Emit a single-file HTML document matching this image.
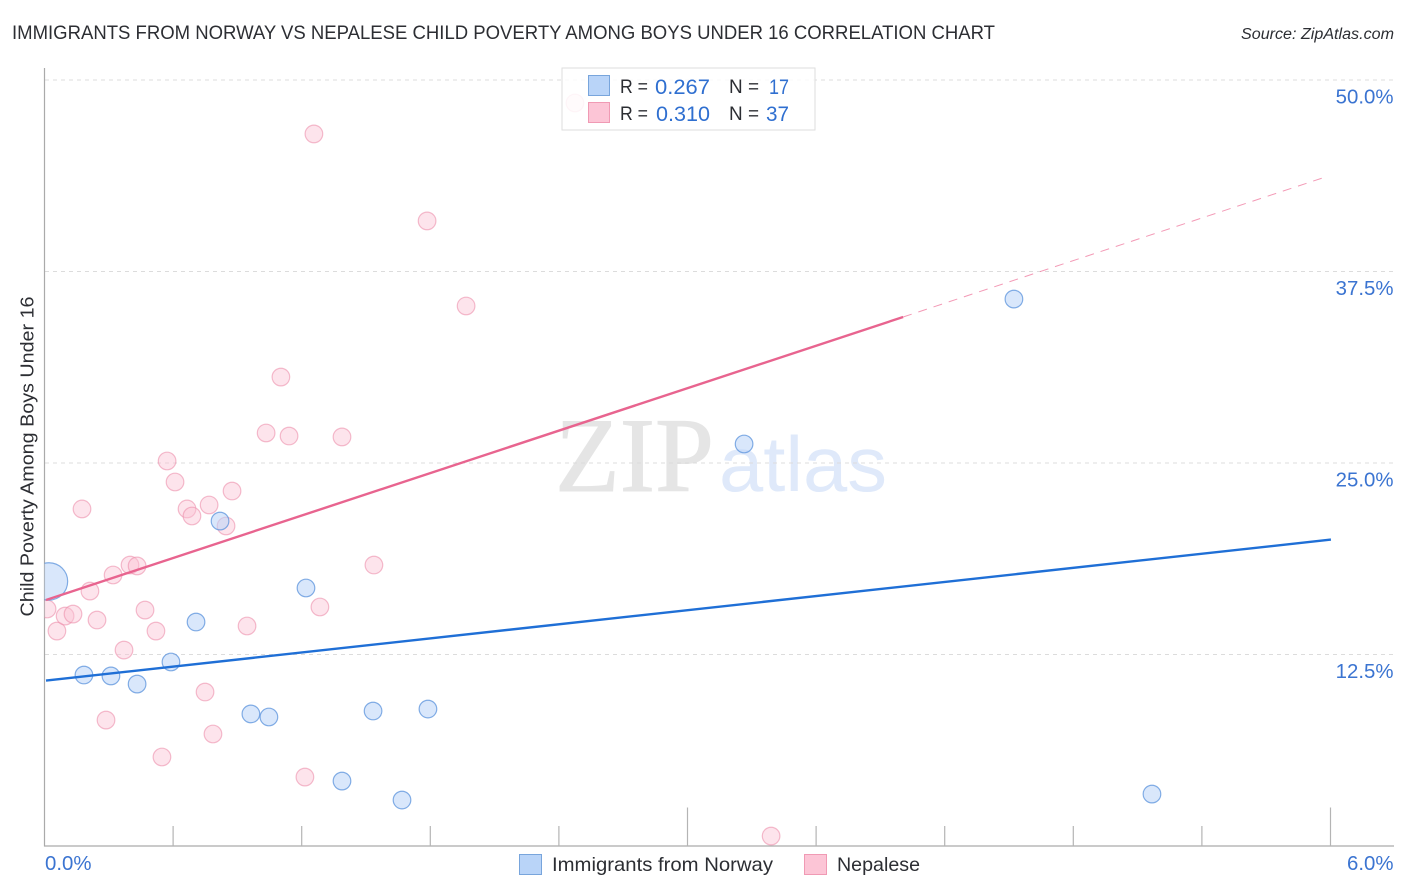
<!DOCTYPE html>
<html lang="en">
<head>
<meta charset="utf-8">
<title>Immigrants from Norway vs Nepalese Child Poverty Among Boys Under 16 Correlation Chart</title>
<style>
html,body{margin:0;padding:0;background:#fff;width:1406px;height:892px;overflow:hidden}
svg{display:block;font-family:"Liberation Sans",sans-serif}
</style>
</head>
<body>
<svg id="chart" xmlns="http://www.w3.org/2000/svg" width="1406" height="892" viewBox="0 0 1406 892">
  <defs>
    <clipPath id="plot-clip"><rect x="44.5" y="60" width="1350" height="786"/></clipPath>
  </defs>
  <rect x="0" y="0" width="1406" height="892" fill="#fff"/>
  <text x="12" y="39" font-size="19.5" fill="#2c2e33" textLength="983" lengthAdjust="spacingAndGlyphs">IMMIGRANTS FROM NORWAY VS NEPALESE CHILD POVERTY AMONG BOYS UNDER 16 CORRELATION CHART</text>
  <text x="1241" y="39" font-size="15.5" font-style="italic" fill="#2c2e33" textLength="153" lengthAdjust="spacingAndGlyphs">Source: ZipAtlas.com</text>

  <g>
    <text x="555" y="491" font-family="'Liberation Serif',serif" font-size="106" fill="#e5e5e5" stroke="#e5e5e5" stroke-width="1" textLength="159" lengthAdjust="spacingAndGlyphs">ZIP</text>
    <text x="719" y="491" font-size="78" fill="#dfe9fa" textLength="168" lengthAdjust="spacingAndGlyphs">atlas</text>
  </g>

  <g id="grid"></g>
  <g id="axes"></g>
  <g id="points" clip-path="url(#plot-clip)"></g>
  <g id="trends"></g>

  <text transform="translate(33.5,456.5) rotate(-90)" text-anchor="middle" font-size="18.5" fill="#2c2e33" textLength="320" lengthAdjust="spacingAndGlyphs">Child Poverty Among Boys Under 16</text>

  <g>
    <rect x="562" y="68" width="253" height="62" fill="#fff" fill-opacity="0.85" stroke="#dedede" stroke-width="1"/>
    <rect x="588.5" y="75.5" width="21" height="20" fill="#b9d4f8" stroke="#78a5dc" stroke-width="1"/>
    <rect x="588.5" y="102.5" width="21" height="20" fill="#fcc5d6" stroke="#f09ab4" stroke-width="1"/>
    <g font-size="19.5" fill="#2c2e33">
      <text x="620" y="93" textLength="28" lengthAdjust="spacingAndGlyphs">R =</text>
      <text x="729" y="93" textLength="30" lengthAdjust="spacingAndGlyphs">N =</text>
      <text x="620" y="120" textLength="28" lengthAdjust="spacingAndGlyphs">R =</text>
      <text x="729" y="120" textLength="30" lengthAdjust="spacingAndGlyphs">N =</text>
    </g>
    <g font-size="21.5" fill="#2f6fd0">
      <text x="655" y="94" textLength="55" lengthAdjust="spacingAndGlyphs">0.267</text>
      <text x="769" y="94" textLength="20" lengthAdjust="spacingAndGlyphs">17</text>
      <text x="656" y="121" textLength="54" lengthAdjust="spacingAndGlyphs">0.310</text>
      <text x="766" y="121" textLength="23" lengthAdjust="spacingAndGlyphs">37</text>
    </g>
  </g>

  <g>
    <rect x="519.5" y="854.5" width="22" height="20" fill="#b9d4f8" stroke="#78a5dc" stroke-width="1"/>
    <text x="552" y="871" font-size="19.5" fill="#2c2e33" textLength="221" lengthAdjust="spacingAndGlyphs">Immigrants from Norway</text>
    <rect x="804.5" y="854.5" width="22" height="20" fill="#fcc5d6" stroke="#f09ab4" stroke-width="1"/>
    <text x="837" y="871" font-size="19.5" fill="#2c2e33" textLength="83" lengthAdjust="spacingAndGlyphs">Nepalese</text>
  </g>
</svg>

<script>
// ---- chart data (x: percent immigrants, y: percent child poverty) ----
const yTicks = [12.5, 25, 37.5, 50];
const yTickLabels = ['12.5%', '25.0%', '37.5%', '50.0%'];
const xTicks = [0.6, 1.2, 1.8, 2.4, 3, 3.6, 4.2, 4.8, 5.4, 6];
const xMajorTicks = [3, 6];
const xEndValues = [0, 6];
const xEndLabels = ['0.0%', '6.0%'];

const norwayX = [0.021, 0.184, 0.310, 0.432, 0.590, 0.707, 0.819, 0.963, 1.047, 1.220, 1.388, 1.533, 1.668, 1.789, 3.264, 4.523, 5.167];
const norwayY = [17.27, 11.16, 11.10, 10.57, 12.01, 14.62, 21.21, 8.62, 8.42, 16.84, 4.24, 8.81, 3.00, 8.94, 26.24, 35.70, 3.39];
const norwayWeight = [4.5, 1, 1, 1, 1, 1, 1, 1, 1, 1, 1, 1, 1, 1, 1, 1, 1];

const nepaleseX = [0.012, 0.058, 0.096, 0.133, 0.175, 0.212, 0.245, 0.287, 0.320, 0.371, 0.399, 0.432, 0.469, 0.520, 0.548, 0.572, 0.609, 0.665, 0.688, 0.749, 0.768, 0.786, 0.847, 0.875, 0.945, 1.034, 1.103, 1.141, 1.215, 1.257, 1.285, 1.388, 1.537, 1.785, 1.967, 2.475, 3.390];
const nepaleseY = [15.47, 14.03, 15.01, 15.14, 22.00, 16.64, 14.75, 8.22, 17.69, 12.79, 18.34, 18.28, 15.40, 14.03, 5.81, 25.13, 23.76, 22.00, 21.54, 10.05, 22.26, 7.31, 20.89, 23.17, 14.36, 26.96, 30.61, 26.76, 4.50, 46.48, 15.60, 26.70, 18.34, 40.80, 35.25, 48.50, 0.65];

const norwayTrendX = [0.007, 6.002];
const norwayTrendY = [10.80, 20.00];
const nepaleseTrendX = [0.007, 4.006];
const nepaleseTrendY = [16.06, 34.53];
const nepaleseProjectionX = [4.006, 5.99];
const nepaleseProjectionY = [34.53, 43.73];

// ---- axis functions ----
function xScale(v) { return 44.5 + v * (1286 / 6); }
function yScale(v) { return 846 - v * (766 / 50); }

const NS = 'http://www.w3.org/2000/svg';
function make(tag, attrs, parent) {
  const el = document.createElementNS(NS, tag);
  for (const k in attrs) el.setAttribute(k, attrs[k]);
  parent.appendChild(el);
  return el;
}

const gridG = document.getElementById('grid');
const axesG = document.getElementById('axes');
const pointsG = document.getElementById('points');
const trendsG = document.getElementById('trends');

// gridlines and y tick labels
yTicks.forEach(function (t, i) {
  const line = make('line', { x1: 45, x2: 1394, y1: yScale(t), y2: yScale(t), stroke: '#dcdcdc', 'stroke-width': 1, 'stroke-dasharray': '4 4' }, gridG);
  
  
  const label = make('text', { x: 1393.5, y: yScale(t) + 23.5, 'text-anchor': 'end', 'font-size': 20.4, fill: '#3b74d1' }, axesG);
  
  
  label.textContent = yTickLabels[i];
});

// axis lines
const yAxisLine = make('line', { x1: 44.5, x2: 44.5, y1: 68, y2: 846.5, stroke: '#aaaaaa', 'stroke-width': 1.2 }, axesG);


const xAxisLine = make('line', { x1: 44, x2: 1394, y1: 846, y2: 846, stroke: '#aaaaaa', 'stroke-width': 1.2 }, axesG);



// x ticks
xTicks.forEach(function (t) {
  const major = xMajorTicks.indexOf(t) !== -1;
  const tick = make('line', { x1: xScale(t), x2: xScale(t), y1: major ? 807.5 : 826, y2: 846, stroke: '#b4b4b4', 'stroke-width': 1.2 }, axesG);
  
  
});

// x end labels
xEndValues.forEach(function (t, i) {
  const label = make('text', { x: i === 0 ? xScale(t) + 0.5 : xScale(t) + 63, y: 870, 'text-anchor': i === 0 ? 'start' : 'end', 'font-size': 20.4, fill: '#3b74d1' }, axesG);
  
  
  label.textContent = xEndLabels[i];
});

// points
nepaleseX.forEach(function (x, i) {
  const c = make('circle', { cx: xScale(x), cy: yScale(nepaleseY[i]), r: 8.8, fill: '#fbc4d5', 'fill-opacity': 0.45, stroke: '#ec8fab', 'stroke-opacity': 0.6, 'stroke-width': 1.2 }, pointsG);
  
  
});
norwayX.forEach(function (x, i) {
  const c = make('circle', { cx: xScale(x), cy: yScale(norwayY[i]), r: 8.8 * Math.sqrt(norwayWeight[i]), fill: '#b9d4f8', 'fill-opacity': 0.55, stroke: '#5b93dc', 'stroke-opacity': 0.75, 'stroke-width': 1.2 }, pointsG);
  
  
});

// trend lines
const nepaleseProjection = make('line', { x1: xScale(nepaleseProjectionX[0]), y1: yScale(nepaleseProjectionY[0]), x2: xScale(nepaleseProjectionX[1]), y2: yScale(nepaleseProjectionY[1]), stroke: '#ee6f97', 'stroke-width': 1, 'stroke-opacity': 0.7, 'stroke-dasharray': '9 7' }, trendsG);


const nepaleseTrend = make('line', { x1: xScale(nepaleseTrendX[0]), y1: yScale(nepaleseTrendY[0]), x2: xScale(nepaleseTrendX[1]), y2: yScale(nepaleseTrendY[1]), stroke: '#e8648f', 'stroke-width': 2.4 }, trendsG);


const norwayTrend = make('line', { x1: xScale(norwayTrendX[0]), y1: yScale(norwayTrendY[0]), x2: xScale(norwayTrendX[1]), y2: yScale(norwayTrendY[1]), stroke: '#1f6fd6', 'stroke-width': 2.4 }, trendsG);


</script>
</body>
</html>
